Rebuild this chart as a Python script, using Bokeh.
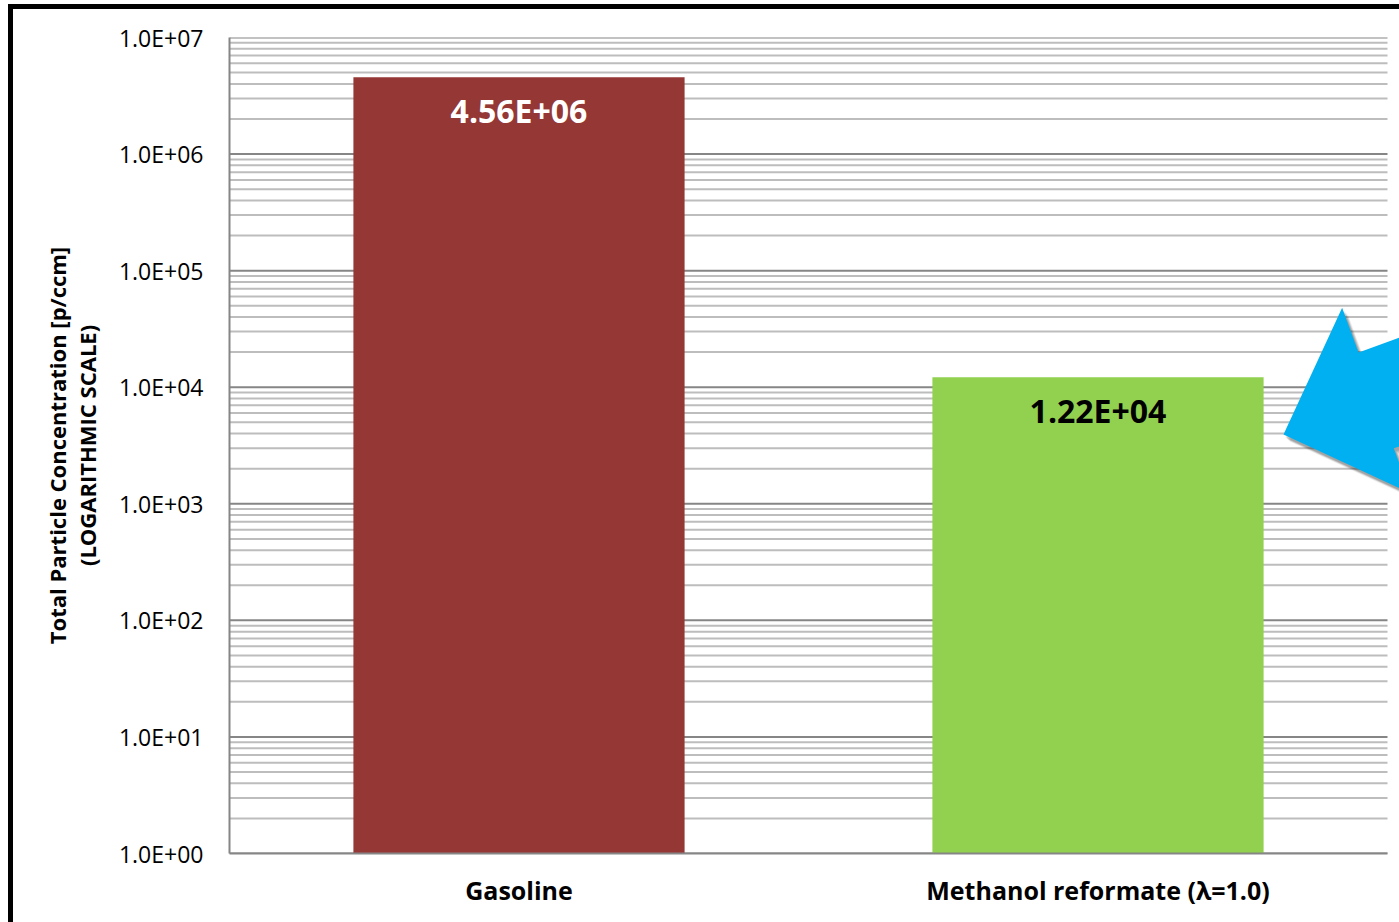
import numpy as np
from bokeh.plotting import figure
from bokeh.models import Range1d, FixedTicker, ColumnDataSource, Div
from bokeh.layouts import row, column
from bokeh.core.properties import value
from bokeh.embed import file_html
from bokeh.resources import INLINE

# --- data -------------------------------------------------------------
categories = ["Gasoline", "Methanol reformate (λ=1.0)"]
concentrations = [4.56e6, 1.22e4]          # total particles per ccm
bar_colors = ["#953735", "#92D050"]
value_label_colors = ["#FFFFFF", "#000000"]

y_ticks = [1e0, 1e1, 1e2, 1e3, 1e4, 1e5, 1e6, 1e7]
y_tick_labels = ["1.0E+00", "1.0E+01", "1.0E+02", "1.0E+03",
                 "1.0E+04", "1.0E+05", "1.0E+06", "1.0E+07"]

# --- layout -----------------------------------------------------------
PAGE_W, PAGE_H = 1399, 922
GAP_L, GAP_T, RULE = 8, 4, 5       # white margin and black frame rule
W = PAGE_W - GAP_L - RULE
H = PAGE_H - GAP_T - RULE
FRAME_LEFT, FRAME_TOP, FRAME_BOTTOM_PAD = 216, 28, 69
SLOT_PX = 579                      # pixel width of one category slot
FRAME_W = W - FRAME_LEFT
FRAME_H = H - FRAME_TOP - FRAME_BOTTOM_PAD
n = len(categories)
x_end = FRAME_W / SLOT_PX          # plotting area ends a little before the canvas edge
DECADE_PX = FRAME_H / 7.0

FONT = value("Open Sans")

p = figure(width=W, height=H,
           x_range=Range1d(0, x_end), y_range=Range1d(y_ticks[0], y_ticks[-1]),
           y_axis_type="log", output_backend="svg", toolbar_location=None,
           min_border_left=FRAME_LEFT, min_border_right=0,
           min_border_top=FRAME_TOP, min_border_bottom=FRAME_BOTTOM_PAD)
p.outline_line_color = None
p.background_fill_color = "white"
p.border_fill_color = "white"
p.xgrid.visible = False
p.ygrid.visible = False

# --- gridlines (only across the category slots) -----------------------
minor_vals = [m * 10.0 ** k for k in range(7) for m in range(2, 10)]
p.segment(x0=0, x1=n, y0=minor_vals, y1=minor_vals, line_color="#bdbdbd", line_width=2)
p.segment(x0=0, x1=n, y0=y_ticks, y1=y_ticks, line_color="#868686", line_width=2)

# --- bars ---------------------------------------------------------------
xs = np.arange(n) + 0.5
src = ColumnDataSource(dict(
    x=xs, top=concentrations, color=bar_colors,
    label=[f"{v:.2E}" for v in concentrations], label_color=value_label_colors))
p.vbar(x="x", top="top", bottom=y_ticks[0], width=0.572, fill_color="color",
       line_color=None, source=src)
p.text(x="x", y="top", text="label", text_color="label_color", source=src,
       text_align="center", text_baseline="middle", y_offset=33,
       text_font=FONT, text_font_style="bold", text_font_size="32px")

# --- axes ---------------------------------------------------------------
yax = p.yaxis[0]
yax.ticker = FixedTicker(ticks=y_ticks, minor_ticks=[])
yax.major_label_overrides = {t: s for t, s in zip(y_ticks, y_tick_labels)}
yax.major_tick_in = 0
yax.major_tick_out = 0
yax.minor_tick_in = 0
yax.minor_tick_out = 0
yax.major_label_standoff = 26
yax.major_label_text_font = "Open Sans"
yax.major_label_text_font_size = "23px"
yax.major_label_text_color = "black"
yax.axis_line_color = "#868686"
yax.axis_line_width = 2
yax.axis_label = "Total Particle Concentration [p/ccm]\n(LOGARITHMIC SCALE)"
yax.axis_label_text_font = "Open Sans"
yax.axis_label_text_font_style = "bold"
yax.axis_label_text_font_size = "22px"
yax.axis_label_text_color = "black"
yax.axis_label_text_line_height = 1.0
yax.axis_label_standoff = 14

xax = p.xaxis[0]
xax.ticker = FixedTicker(ticks=list(xs), minor_ticks=[])
xax.major_label_overrides = {float(x): c for x, c in zip(xs, categories)}
xax.bounds = (0, n)
xax.major_tick_in = 0
xax.major_tick_out = 0
xax.minor_tick_in = 0
xax.minor_tick_out = 0
xax.major_label_standoff = 19
xax.major_label_text_font = "Open Sans"
xax.major_label_text_font_style = "bold"
xax.major_label_text_font_size = "25px"
xax.major_label_text_color = "black"
xax.axis_line_color = "#868686"
xax.axis_line_width = 2

# --- callout arrow pointing at the reformate bar -----------------------
def to_data(px, py):
    """Page pixel position -> data coordinates of this figure."""
    fx = px - (GAP_L + RULE) - FRAME_LEFT
    fy = (GAP_T + RULE) + FRAME_TOP + FRAME_H - py
    return fx / SLOT_PX, 10.0 ** (fy / DECADE_PX)

tip = np.array([1283.0, 434.0])
head_dir = np.array([-0.939, 0.345])          # direction the arrow points
side = np.array([0.345, 0.939])
head_half, shaft_half, shaft_len = 98.7, 51.0, 260.0
base = tip - head_dir * head_half
outline = [tip,
           base - side * head_half,
           base - side * shaft_half,
           base - side * shaft_half - head_dir * shaft_len,
           base + side * shaft_half - head_dir * shaft_len,
           base + side * shaft_half,
           base + side * head_half]

# soft drop shadow built from a few offset translucent copies
for dx, dy, a in [(6, 7, 0.05), (5, 6, 0.07), (4, 5, 0.09), (3, 4, 0.1), (2, 3, 0.1)]:
    pts = [to_data(q[0] + dx, q[1] + dy) for q in outline]
    p.patch([q[0] for q in pts], [q[1] for q in pts],
            fill_color="black", fill_alpha=a, line_color=None)
pts = [to_data(q[0], q[1]) for q in outline]
p.patch([q[0] for q in pts], [q[1] for q in pts], fill_color="#00B0F0", line_color=None)

# --- black rules framing the chart on the left and top -------------------
def block(w, h, color=None):
    st = {"background-color": color} if color else {}
    return Div(text="", width=w, height=h, margin=0, styles=st)

page = row(
    block(GAP_L, PAGE_H),
    column(
        block(PAGE_W - GAP_L, GAP_T),
        row(
            block(RULE, PAGE_H - GAP_T, "black"),
            column(block(W, RULE, "black"), p, spacing=0),
            spacing=0),
        spacing=0),
    spacing=0)

open("out.html", "w").write(file_html(page, INLINE))
